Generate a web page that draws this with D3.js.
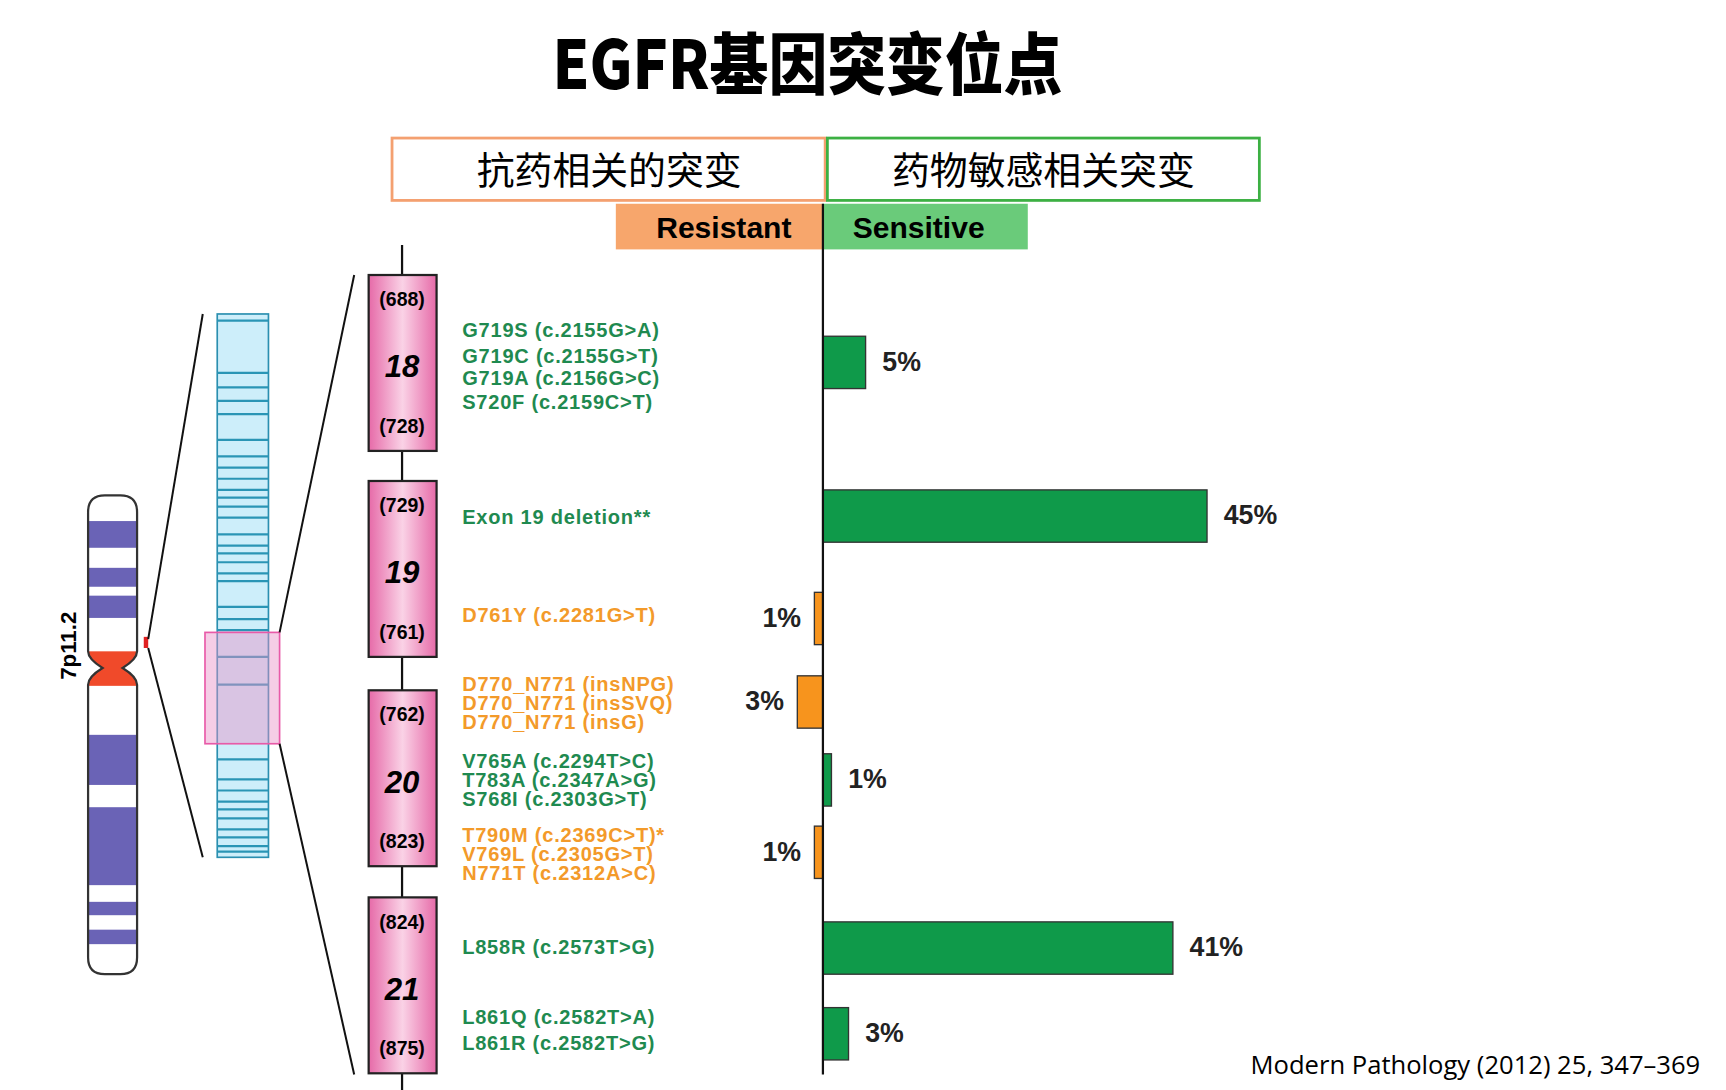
<!DOCTYPE html><html><head><meta charset="utf-8">
<script src="https://cdn.jsdelivr.net/npm/d3@7"></script>
<style>body{margin:0;background:#fff}</style></head><body>
<svg id="c" width="1726" height="1090" viewBox="0 0 1550 979"></svg>
<script>
const barLabels=["5%","45%","1%","3%","1%","1%","41%","3%"];
const barValues=[5,45,1,3,1,1,41,3];
const barTypes=["s","s","r","r","s","r","s","s"];
const barY=[302,440,532,607,677,742,828,905];
const mutations=[
 ["G719S (c.2155G>A)","s",297],["G719C (c.2155G>T)","s",320],["G719A (c.2156G>C)","s",340],["S720F (c.2159C>T)","s",361],
 ["Exon 19 deletion**","s",465],["D761Y (c.2281G>T)","r",553],
 ["D770_N771 (insNPG)","r",615],["D770_N771 (insSVQ)","r",632],["D770_N771 (insG)","r",649],
 ["V765A (c.2294T>C)","s",684],["T783A (c.2347A>G)","s",701],["S768I (c.2303G>T)","s",718],
 ["T790M (c.2369C>T)*","r",750],["V769L (c.2305G>T)","r",767],["N771T (c.2312A>C)","r",784],
 ["L858R (c.2573T>G)","s",851],["L861Q (c.2582T>A)","s",914],["L861R (c.2582T>G)","s",937]];
const exons=[["18","(688)","(728)",247],["19","(729)","(761)",432],["20","(762)","(823)",620],["21","(824)","(875)",806]];
const chromBands=[[468,492],[510,527],[535,555],[660,705],[725,795],[810,822],[835,848]];
const geneStripes=[288,335,348,360,372,395,410,420,430,440,447,455,465,480,490,497,505,515,522,545,556,566,590,615,682,700,710,720,727,735,745,752,760,765];
const svg=d3.select("#c");
const G="#0f9a4a",O="#f7941d",GT="#1f8a50",OT="#f39a2a";
const F="Arial, 'Liberation Sans', sans-serif";
svg.append("text").attr("x",725).attr("y",80).attr("text-anchor","middle").attr("font-size",60).attr("font-weight",900)
 .attr("font-family","'Noto Sans CJK SC'").attr("transform","translate(725,0) scale(0.88,1) translate(-725,0)").text("EGFR基因突变位点");
svg.append("rect").attr("x",352).attr("y",124).attr("width",389).attr("height",56).attr("fill","none").attr("stroke","#f4a070").attr("stroke-width",2.5);
svg.append("rect").attr("x",743).attr("y",124).attr("width",388).attr("height",56).attr("fill","none").attr("stroke","#3cb043").attr("stroke-width",2.5);
svg.append("text").attr("x",547).attr("y",165).attr("text-anchor","middle").attr("font-size",34).attr("font-family","'Noto Sans CJK SC'").text("抗药相关的突变");
svg.append("text").attr("x",937).attr("y",165).attr("text-anchor","middle").attr("font-size",34).attr("font-family","'Noto Sans CJK SC'").text("药物敏感相关突变");
svg.append("rect").attr("x",553).attr("y",183).attr("width",186).attr("height",41).attr("fill","#f7a66c");
svg.append("rect").attr("x",739).attr("y",183).attr("width",184).attr("height",41).attr("fill","#6acb7a");
svg.append("text").attr("x",650).attr("y",214).attr("text-anchor","middle").attr("font-size",27).attr("font-weight","bold").attr("font-family",F).text("Resistant");
svg.append("text").attr("x",825).attr("y",214).attr("text-anchor","middle").attr("font-size",27).attr("font-weight","bold").attr("font-family",F).text("Sensitive");
const x=d3.scaleLinear().domain([0,45]).range([0,345]);const X0=739;
barValues.forEach((v,i)=>{
 const s=barTypes[i]==="s";const w=x(v);
 svg.append("rect").attr("x",s?X0:X0-w).attr("y",barY[i]).attr("width",w).attr("height",47)
  .attr("fill",s?G:O).attr("stroke","#333").attr("stroke-width",1.2);
 svg.append("text").attr("x",s?X0+w+15:X0-w-12).attr("y",barY[i]+31).attr("text-anchor",s?"start":"end")
  .attr("font-size",24).attr("font-weight","bold").attr("font-family",F).attr("fill","#222").text(barLabels[i]);
});
svg.append("line").attr("x1",X0).attr("x2",X0).attr("y1",183).attr("y2",965).attr("stroke","#111").attr("stroke-width",2);
const defs=svg.append("defs");
const gr=defs.append("linearGradient").attr("id","pk");
gr.append("stop").attr("offset","0").attr("stop-color","#e66aa8");
gr.append("stop").attr("offset","0.5").attr("stop-color","#fad2e6");
gr.append("stop").attr("offset","1").attr("stop-color","#e66aa8");
svg.append("line").attr("x1",361).attr("x2",361).attr("y1",220).attr("y2",990).attr("stroke","#111").attr("stroke-width",2);
exons.forEach(e=>{
 const y=e[3];
 svg.append("rect").attr("x",331).attr("y",y).attr("width",61).attr("height",158).attr("fill","url(#pk)").attr("stroke","#222").attr("stroke-width",2);
 svg.append("text").attr("x",361).attr("y",y+28).attr("text-anchor","middle").attr("font-size",17.5).attr("font-weight","bold").attr("font-family",F).text(e[1]);
 svg.append("text").attr("x",361).attr("y",y+92).attr("text-anchor","middle").attr("font-size",28).attr("font-weight","bold").attr("font-style","italic").attr("font-family",F).text(e[0]);
 svg.append("text").attr("x",361).attr("y",y+142).attr("text-anchor","middle").attr("font-size",17.5).attr("font-weight","bold").attr("font-family",F).text(e[2]);
});
mutations.forEach(m=>{
 svg.append("text").attr("x",415).attr("y",m[2]+6).attr("font-size",18).attr("letter-spacing",0.7).attr("font-weight","bold").attr("font-family",F)
  .attr("fill",m[1]==="s"?GT:OT).text(m[0]);
});
const cl=defs.append("clipPath").attr("id","ch");
cl.append("path").attr("d","M79,460 Q79,445 94,445 L108,445 Q123,445 123,460 L123,585 Q123,592 110,600 Q123,608 123,615 L123,860 Q123,875 108,875 L94,875 Q79,875 79,860 L79,615 Q79,608 92,600 Q79,592 79,585 Z");
const cg=svg.append("g").attr("clip-path","url(#ch)");
cg.append("rect").attr("x",79).attr("y",445).attr("width",44).attr("height",430).attr("fill","#fff");
chromBands.forEach(b=>cg.append("rect").attr("x",79).attr("y",b[0]).attr("width",44).attr("height",b[1]-b[0]).attr("fill","#6a63b6"));
cg.append("rect").attr("x",79).attr("y",585).attr("width",44).attr("height",31).attr("fill","#f04a2a");
svg.append("path").attr("d",cl.select("path").attr("d")).attr("fill","none").attr("stroke","#333").attr("stroke-width",2);
svg.append("text").attr("transform","translate(68,580) rotate(-90)").attr("text-anchor","middle").attr("font-size",20).attr("font-weight","bold").attr("font-family",F).text("7p11.2");
svg.append("rect").attr("x",129).attr("y",572).attr("width",4).attr("height",10).attr("fill","#e02020");
svg.append("rect").attr("x",195).attr("y",282).attr("width",46).attr("height",488).attr("fill","#cdeefa").attr("stroke","#2a8fb0").attr("stroke-width",1.5);
geneStripes.forEach(y=>svg.append("line").attr("x1",195).attr("x2",241).attr("y1",y).attr("y2",y).attr("stroke","#2a95b5").attr("stroke-width",2));
svg.append("rect").attr("x",184).attr("y",568).attr("width",67).attr("height",100).attr("fill","#e890c8").attr("fill-opacity",0.45).attr("stroke","#e85aa8").attr("stroke-width",1.5);
[[133,574,182,282],[133,582,182,770],[251,568,318,247],[251,668,318,965]].forEach(l=>
 svg.append("line").attr("x1",l[0]).attr("y1",l[1]).attr("x2",l[2]).attr("y2",l[3]).attr("stroke","#111").attr("stroke-width",1.8));
svg.append("text").attr("x",1527).attr("y",965).attr("text-anchor","end").attr("font-size",23).attr("font-family","'Open Sans', sans-serif").text("Modern Pathology (2012) 25, 347–369");
</script></body></html>
